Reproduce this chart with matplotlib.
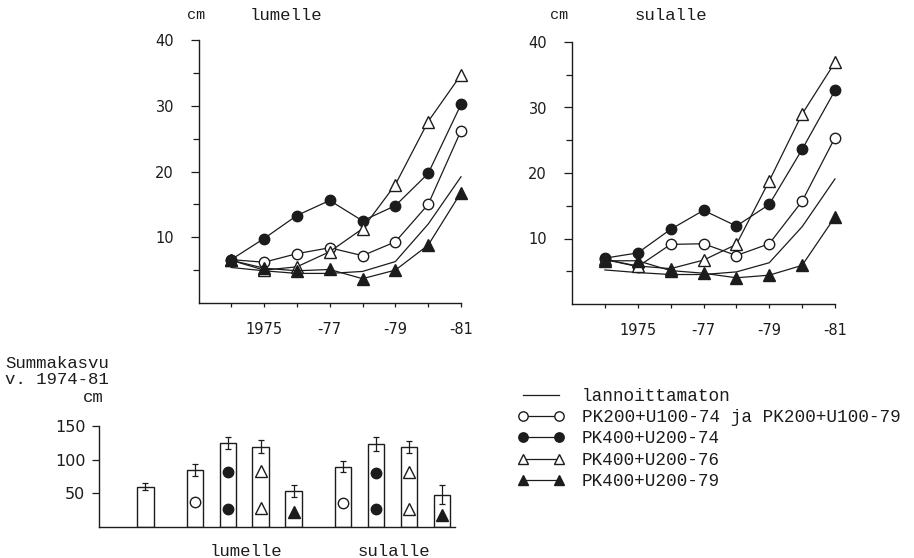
import matplotlib
matplotlib.use("Agg")
import matplotlib.pyplot as plt

# ---------------- data ----------------
years = [1974, 1975, 1976, 1977, 1978, 1979, 1980, 1981]
year_tick_labels = ["", "1975", "", "-77", "", "-79", "", "-81"]

lum_control = [5.4, 4.9, 4.5, 4.5, 4.8, 6.3, 12.0, 19.2]
lum_pk200 = [6.6, 6.2, 7.5, 8.4, 7.2, 9.3, 15.0, 26.2]
lum_pk400_74 = [6.6, 9.8, 13.3, 15.6, 12.5, 14.8, 19.7, 30.2]
lum_pk400_76 = [6.5, 5.0, 5.5, 7.8, 11.3, 18.0, 27.6, 34.7]
lum_pk400_79 = [6.5, 5.3, 4.9, 5.1, 3.7, 5.0, 8.8, 16.8]

sul_control = [5.2, 4.8, 4.5, 4.5, 4.9, 6.3, 11.8, 19.1]
sul_pk200 = [6.8, 5.7, 9.1, 9.2, 7.4, 9.2, 15.7, 25.4]
sul_pk400_74 = [7.0, 7.8, 11.4, 14.3, 11.9, 15.2, 23.6, 32.6]
sul_pk400_76 = [6.8, 5.8, 5.4, 6.7, 9.1, 18.8, 29.0, 36.9]
sul_pk400_79 = [6.6, 6.6, 5.1, 4.7, 4.0, 4.4, 5.9, 13.3]

legend_labels = ["lannoittamaton",
                 "PK200+U100-74 ja PK200+U100-79",
                 "PK400+U200-74",
                 "PK400+U200-76",
                 "PK400+U200-79"]

bar_pos = [0, 1.5, 2.5, 3.5, 4.5, 6, 7, 8, 9]
bar_sum = [60, 85, 124.5, 119.5, 54, 89.5, 123.5, 118.5, 48]
bar_err = [5, 9, 9, 10, 9, 8.5, 10, 9, 14]
bar_kind = [None, "pk200", "pk400_74", "pk400_76", "pk400_79",
            "pk200", "pk400_74", "pk400_76", "pk400_79"]
bar_marker_y = [[], [36.5], [26.5, 81.5], [28.5, 82.5], [22.5],
                [36], [26.5, 79.5], [26.5, 81.5], [17.5]]
group_labels = ["lumelle", "sulalle"]
group_label_pos = [3.05, 7.55]

# ---------------- style ----------------
INK = "#1c1c1c"
W, H = 914, 558
MONO = "Liberation Mono"
SANS = "DejaVu Sans"

styles = {
    "control": dict(marker=None, mfc="none"),
    "pk200": dict(marker="o", mfc="white"),
    "pk400_74": dict(marker="o", mfc=INK),
    "pk400_76": dict(marker="^", mfc="white"),
    "pk400_79": dict(marker="^", mfc=INK),
}
ms = {"o": 7.5, "^": 8.0}

fig = plt.figure(figsize=(W / 100, H / 100), dpi=100)
fig.patch.set_facecolor("white")


def px_axes(x0, y0, x1, y1):
    return fig.add_axes([x0 / W, 1 - y1 / H, (x1 - x0) / W, (y1 - y0) / H])


def line_panel(ax, series, xlim):
    handles = []
    order = ["control", "pk200", "pk400_74", "pk400_76", "pk400_79"]
    for key in order:
        st = styles[key]
        m = st["marker"]
        (h,) = ax.plot(years, series[key], color=INK, lw=0.9,
                       marker=m, markersize=ms.get(m, 0) if m else 0,
                       mfc=st["mfc"], mec=INK, mew=1.0, clip_on=False,
                       zorder=3)
        handles.append(h)
    ax.set_xlim(*xlim)
    ax.set_ylim(0, 40)
    for s in ["top", "right"]:
        ax.spines[s].set_visible(False)
    for s in ["left", "bottom"]:
        ax.spines[s].set_color(INK)
        ax.spines[s].set_linewidth(1.0)
    ax.set_yticks([10, 20, 30, 40])
    ax.set_yticks([5, 15, 25, 35], minor=True)
    ax.set_xticks(years)
    ax.set_xticklabels(year_tick_labels)
    ax.tick_params(axis="y", which="major", direction="out", length=6,
                   width=0.9, color=INK, pad=12, labelsize=10.5,
                   labelcolor=INK)
    ax.tick_params(axis="y", which="minor", direction="out", length=4,
                   width=0.9, color=INK)
    ax.tick_params(axis="x", which="major", direction="out", length=3,
                   width=0.9, color=INK, pad=11, labelsize=10.5,
                   labelcolor=INK)
    for lab in ax.get_xticklabels() + ax.get_yticklabels():
        lab.set_family(SANS)
    return handles


ax1 = px_axes(199, 40, 461, 303)
handles = line_panel(ax1, {"control": lum_control, "pk200": lum_pk200,
                           "pk400_74": lum_pk400_74, "pk400_76": lum_pk400_76,
                           "pk400_79": lum_pk400_79}, (1973.02, 1981.0))

ax2 = px_axes(572, 42, 835, 304)
line_panel(ax2, {"control": sul_control, "pk200": sul_pk200,
                 "pk400_74": sul_pk400_74, "pk400_76": sul_pk400_76,
                 "pk400_79": sul_pk400_79}, (1973.0, 1981.0))

# panel titles
fig.text(196 / W, 1 - 15 / H, "cm", family=MONO, fontsize=11, color=INK,
         ha="center", va="center")
fig.text(250 / W, 1 - 15 / H, "lumelle", family=MONO, fontsize=12.5,
         color=INK, ha="left", va="center")
fig.text(559 / W, 1 - 15 / H, "cm", family=MONO, fontsize=11, color=INK,
         ha="center", va="center")
fig.text(635 / W, 1 - 15 / H, "sulalle", family=MONO, fontsize=12.5,
         color=INK, ha="left", va="center")

# ---------------- bar chart ----------------
ax3 = px_axes(99.3, 426, 455, 527)
ax3.bar(bar_pos, bar_sum, width=0.5, facecolor="white", edgecolor=INK,
        linewidth=1.0, zorder=2)
ax3.errorbar(bar_pos, bar_sum, yerr=bar_err, fmt="none", ecolor=INK,
             elinewidth=0.9, capsize=2.5, capthick=0.9, zorder=3)
for xp, kind, ys in zip(bar_pos, bar_kind, bar_marker_y):
    if kind is None:
        continue
    st = styles[kind]
    ax3.plot([xp] * len(ys), ys, linestyle="none", marker=st["marker"],
             markersize=ms[st["marker"]], mfc=st["mfc"], mec=INK, mew=1.0,
             zorder=4)
ax3.set_xlim(-1.4, 9.4)
ax3.set_ylim(0, 150)
for s in ["top", "right"]:
    ax3.spines[s].set_visible(False)
for s in ["left", "bottom"]:
    ax3.spines[s].set_color(INK)
    ax3.spines[s].set_linewidth(1.0)
ax3.set_yticks([50, 100, 150])
ax3.set_xticks(group_label_pos)
ax3.set_xticklabels(group_labels, family=MONO, fontsize=12.5, color=INK)
ax3.tick_params(axis="x", length=0, pad=12)
ax3.tick_params(axis="y", direction="out", length=5, width=0.9, color=INK,
                pad=5, labelsize=11.5, labelcolor=INK)
for lab in ax3.get_yticklabels():
    lab.set_family(SANS)

fig.text(5 / W, 1 - 363 / H, "Summakasvu", family=MONO, fontsize=12.5,
         color=INK, ha="left", va="center")
fig.text(5 / W, 1 - 380 / H, "v. 1974-81", family=MONO, fontsize=12.5,
         color=INK, ha="left", va="center")
fig.text(93 / W, 1 - 397 / H, "cm", family=MONO, fontsize=12.5,
         color=INK, ha="center", va="center")

# ---------------- legend ----------------
leg = fig.legend(handles, legend_labels, loc="upper left",
                 bbox_to_anchor=(518 / W, 1 - 388 / H), frameon=False,
                 numpoints=2, handlelength=2.6, handletextpad=1.0,
                 labelspacing=0.24, borderaxespad=0, borderpad=0,
                 markerscale=0.9,
                 prop={"family": MONO, "size": 12.7})
for t in leg.get_texts():
    t.set_color(INK)

fig.savefig("out.png", dpi=100, facecolor="white")
